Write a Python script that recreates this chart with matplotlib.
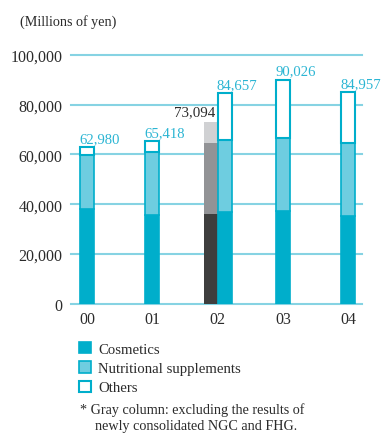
import numpy as np
import matplotlib
matplotlib.use('Agg')
import matplotlib.pyplot as plt
from matplotlib.patches import Patch

# sales by segment, millions of yen
years = ['00', '01', '02', '03', '04']
cosmetics = [38300, 35900, 37000, 37400, 35200]
supplements = [21400, 24900, 28900, 29100, 29400]
totals = [62980, 65418, 84657, 90026, 84957]

# 2002 column without newly consolidated NGC and FHG
gray_year = '02'
gray_cosmetics = 36000
gray_supplements = 28400
gray_total = 73094

CYAN = '#00aecb'
LIGHT_CYAN = '#6ecde0'
GRID = '#86d3e3'
LABEL_CYAN = '#2bb5d3'
TEXT = '#2b2b2b'

plt.rcParams['font.family'] = ['Liberation Serif', 'DejaVu Serif']

fig = plt.figure(figsize=(3.81, 4.35), dpi=100)
ax = fig.add_axes([71 / 381, 1 - 305 / 435, 291 / 381, 249.3 / 435])

x = np.arange(len(years))
w = 0.215
gi = years.index(gray_year)
shift = np.zeros(len(years))
shift[gi] = w / 2
pos = x + shift

others = np.array(totals) - np.array(cosmetics) - np.array(supplements)

# gray column
ax.bar(gi - w / 2, gray_cosmetics, w, color='#3e3e3e', linewidth=0, zorder=2)
ax.bar(gi - w / 2, gray_supplements, w, bottom=gray_cosmetics,
       color='#929396', linewidth=0, zorder=2)
ax.bar(gi - w / 2, gray_total - gray_cosmetics - gray_supplements, w,
       bottom=gray_cosmetics + gray_supplements,
       color='#d0d1d3', linewidth=0, zorder=2)
ax.text(gi - 0.03, gray_total + 1500, format(gray_total, ','), ha='right',
        va='bottom', color=TEXT, fontsize=10.8)

b1 = ax.bar(pos, cosmetics, w, color=CYAN, edgecolor=CYAN, linewidth=1.2,
            zorder=3)
b2 = ax.bar(pos, supplements, w, bottom=cosmetics, color=LIGHT_CYAN,
            edgecolor=CYAN, linewidth=1.2, zorder=3)
b3 = ax.bar(pos, others, w, bottom=np.array(cosmetics) + np.array(supplements),
            color='white', edgecolor=CYAN, linewidth=1.5, zorder=3)

for p, t in zip(pos, totals):
    ax.text(p - w / 2 - 0.01, t + 800, format(t, ','), ha='left', va='bottom',
            color=LABEL_CYAN, fontsize=10.6)

ax.set_xlim(-0.245, 4.21)
ax.set_ylim(0, 100000)
ax.set_yticks(np.arange(0, 100001, 20000))
ax.set_yticklabels([format(v, ',') for v in range(0, 100001, 20000)])
ax.set_xticks(x)
ax.set_xticklabels(years)
ax.tick_params(length=0, labelsize=11.5, colors=TEXT)
ax.tick_params(axis='y', pad=6)
ax.tick_params(axis='x', pad=5)
for s in ax.spines.values():
    s.set_visible(False)
ax.set_axisbelow(True)
ax.yaxis.grid(True, color=GRID, linewidth=1.5)
for gl in ax.yaxis.get_gridlines():
    gl.set_clip_on(False)

fig.text(20 / 381, 1 - 22 / 435, '(Millions of yen)', fontsize=10.2,
         color=TEXT, va='center', ha='left')

handles = [Patch(facecolor=CYAN, edgecolor=CYAN, linewidth=1.2),
           Patch(facecolor=LIGHT_CYAN, edgecolor=CYAN, linewidth=1.2),
           Patch(facecolor='white', edgecolor=CYAN, linewidth=1.5)]
fig.legend(handles, ['Cosmetics', 'Nutritional supplements', 'Others'],
           loc='upper left', bbox_to_anchor=(79 / 381, 1 - 343 / 435),
           frameon=False, fontsize=10.6, handlelength=0.8, handleheight=0.8,
           handletextpad=0.5, labelspacing=0.38, borderpad=0, borderaxespad=0,
           labelcolor=TEXT)

fig.text(80 / 381, 1 - 410 / 435, '* Gray column: excluding the results of',
         fontsize=10.2, color=TEXT, va='center', ha='left')
fig.text(95 / 381, 1 - 427 / 435, 'newly consolidated NGC and FHG.',
         fontsize=10.2, color=TEXT, va='center', ha='left')

fig.savefig('out.png', dpi=100)
